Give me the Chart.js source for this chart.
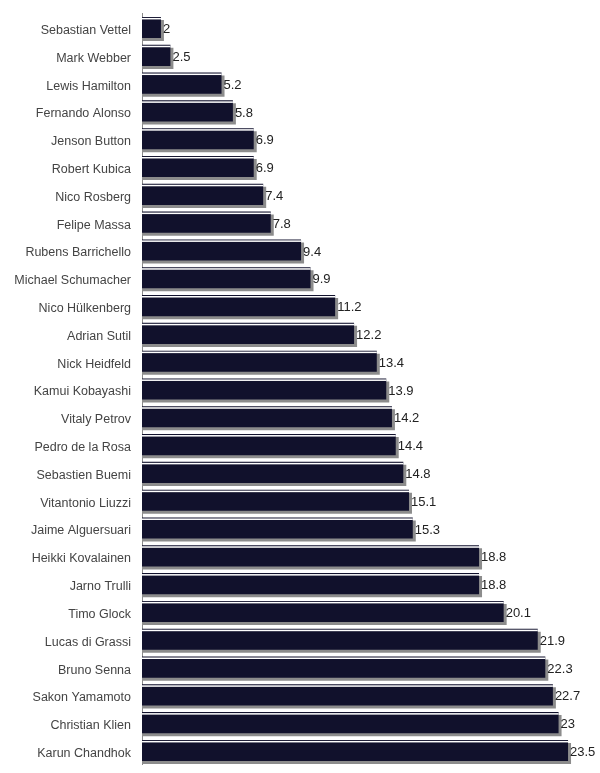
<!DOCTYPE html>
<html lang="en">
<head>
    <meta charset="UTF-8">
    <title>Drivers</title>
    <script src="https://cdn.jsdelivr.net/npm/chart.js"></script>
    <style>
        html, body { margin: 0; padding: 0; background: #fff; }
        #wrap { width: 600px; height: 773px; }
    </style>
</head>
<body>
    <div id="wrap"><canvas id="driverChart"></canvas></div>

    <script>
        const drivers = [
            'Sebastian Vettel', 'Mark Webber', 'Lewis Hamilton', 'Fernando Alonso',
            'Jenson Button', 'Robert Kubica', 'Nico Rosberg', 'Felipe Massa',
            'Rubens Barrichello', 'Michael Schumacher', 'Nico Hülkenberg', 'Adrian Sutil',
            'Nick Heidfeld', 'Kamui Kobayashi', 'Vitaly Petrov', 'Pedro de la Rosa',
            'Sebastien Buemi', 'Vitantonio Liuzzi', 'Jaime Alguersuari', 'Heikki Kovalainen',
            'Jarno Trulli', 'Timo Glock', 'Lucas di Grassi', 'Bruno Senna',
            'Sakon Yamamoto', 'Christian Klien', 'Karun Chandhok'
        ];
        const values = [
            2, 2.5, 5.2, 5.8, 6.9, 6.9, 7.4, 7.8, 9.4, 9.9, 11.2, 12.2, 13.4, 13.9,
            14.2, 14.4, 14.8, 15.1, 15.3, 18.8, 18.8, 20.1, 21.9, 22.3, 22.7, 23, 23.5
        ];

        // shadow under the bars, white highlight and value text on top
        const barDecor = {
            id: 'barDecor',
            beforeDatasetsDraw(chart) {
                const c = chart.ctx;
                c.save();
                c.shadowColor = '#8c8c8c';
                c.shadowOffsetX = 3;
                c.shadowOffsetY = 3;
                c.shadowBlur = 0;
            },
            afterDatasetsDraw(chart) {
                const c = chart.ctx;
                c.restore();
                const meta = chart.getDatasetMeta(0);
                c.save();
                meta.data.forEach((bar, i) => {
                    const top = bar.y - bar.height / 2;
                    c.fillStyle = '#ffffff';
                    c.fillRect(bar.base, top + 1, bar.x - bar.base, 1.5);
                    c.fillStyle = '#222';
                    c.font = '13px "Liberation Sans", Arial, sans-serif';
                    c.textBaseline = 'middle';
                    c.textAlign = 'left';
                    c.fillText(String(values[i]), bar.x + 2, bar.y + 2);
                });
                c.restore();
            }
        };

        new Chart(document.getElementById('driverChart'), {
            type: 'bar',
            data: {
                labels: drivers,
                datasets: [{
                    data: values,
                    backgroundColor: '#11112c',
                    borderWidth: 0,
                    barPercentage: 0.76,
                    categoryPercentage: 1
                }]
            },
            options: {
                indexAxis: 'y',
                responsive: true,
                maintainAspectRatio: false,
                animation: false,
                layout: { padding: { top: 13.6, bottom: 8.6, right: 10, left: 0 } },
                plugins: {
                    legend: { display: false },
                    tooltip: { enabled: false }
                },
                scales: {
                    x: {
                        display: false,
                        min: 1,
                        max: 24.66
                    },
                    y: {
                        grid: { display: false, drawTicks: false },
                        border: { display: true, color: '#8a8a8a', width: 1 },
                        ticks: {
                            color: '#444',
                            padding: 11,
                            labelOffset: 3,
                            font: { family: '"Liberation Sans", Arial, sans-serif', size: 12.5 }
                        },
                        afterFit(scale) {
                            scale.width = 142;
                            scale.paddingTop = 0;
                            scale.paddingBottom = 0;
                        }
                    }
                }
            },
            plugins: [barDecor]
        });
    </script>
</body>
</html>
